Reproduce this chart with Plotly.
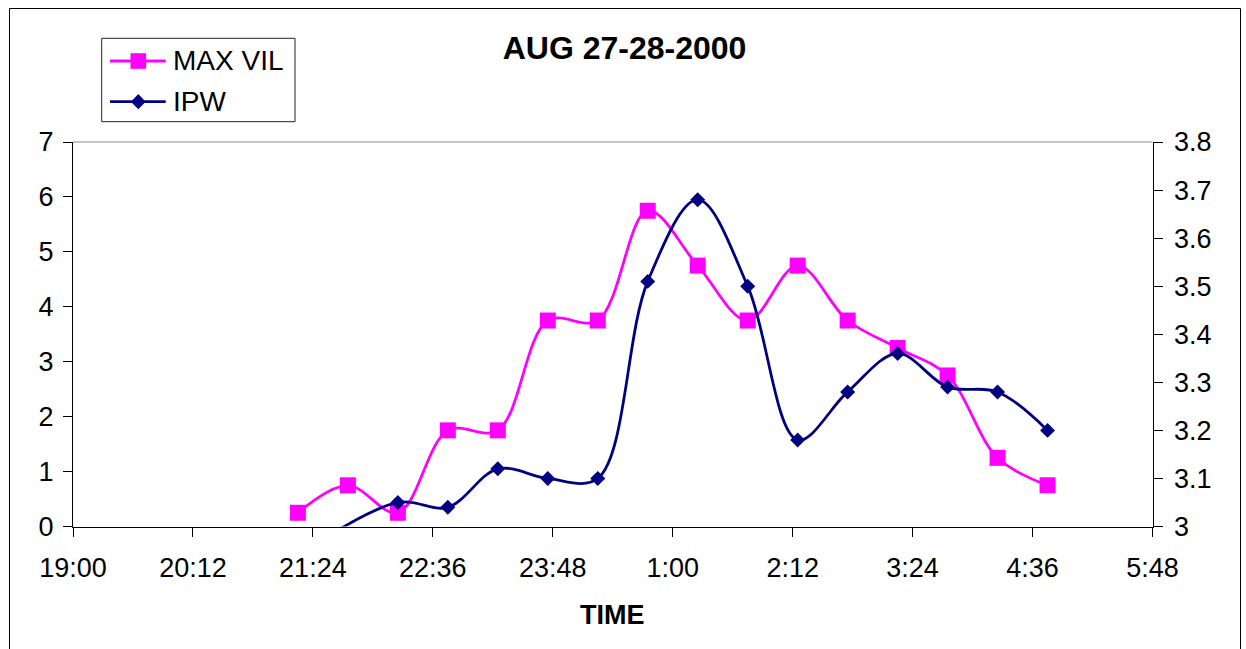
import plotly.graph_objects as go

# ---- data -------------------------------------------------------------
vil_times = ["21:15", "21:45", "22:15", "22:45", "23:15", "23:45", "0:15", "0:45",
             "1:15", "1:45", "2:15", "2:45", "3:15", "3:45", "4:15", "4:45"]
max_vil = [0.25, 0.75, 0.25, 1.75, 1.75, 3.75, 3.75, 5.75,
           4.75, 3.75, 4.75, 3.75, 3.25, 2.75, 1.25, 0.75]

ipw_times = ["21:15", "22:15", "22:45", "23:15", "23:45", "0:15", "0:45",
             "1:15", "1:45", "2:15", "2:45", "3:15", "3:45", "4:15", "4:45"]
ipw = [2.94, 3.05, 3.04, 3.12, 3.10, 3.10, 3.51,
       3.68, 3.50, 3.18, 3.28, 3.36, 3.29, 3.28, 3.20]

left_ticks = [0, 1, 2, 3, 4, 5, 6, 7]
right_ticks = [3, 3.1, 3.2, 3.3, 3.4, 3.5, 3.6, 3.7, 3.8]

# ---- geometry helpers ---------------------------------------------------
W, H = 1246, 649
FONT = "Liberation Sans, Arial, sans-serif"
VIL_COLOR = "#FF00FF"
IPW_COLOR = "#000080"

PLOT_L, PLOT_R, PLOT_T, PLOT_B = 73, 1152.5, 142, 526.5


def fx(px):
    return px / W


def fy(py):
    return 1 - py / H


def to_dt(hm):
    h, m = map(int, hm.split(":"))
    day = 27 if h >= 12 else 28
    return f"2000-08-{day} {h:02d}:{m:02d}"


# ---- traces -------------------------------------------------------------
fig = go.Figure()
fig.add_trace(go.Scatter(
    x=[to_dt(t) for t in vil_times], y=max_vil, name="MAX VIL",
    mode="lines+markers",
    line=dict(color=VIL_COLOR, width=2.8, shape="spline", smoothing=1),
    marker=dict(symbol="square", size=16, color=VIL_COLOR),
    showlegend=False,
))
fig.add_trace(go.Scatter(
    x=[to_dt(t) for t in ipw_times], y=ipw, name="IPW", yaxis="y2",
    mode="lines+markers",
    line=dict(color=IPW_COLOR, width=2.8, shape="spline", smoothing=1),
    marker=dict(symbol="diamond", size=11.5, color=IPW_COLOR),
    showlegend=False,
))

tick_font = dict(family=FONT, size=27, color="black")

fig.update_layout(
    template="none",
    width=W, height=H,
    margin=dict(l=0, r=0, t=0, b=0, pad=0),
    paper_bgcolor="white", plot_bgcolor="white",
    showlegend=False,
    title=dict(text="<b>AUG 27-28-2000</b>", x=fx(624.5), xanchor="center",
               y=fy(48), yanchor="middle", automargin=False,
               font=dict(family=FONT, size=32, color="black")),
    xaxis=dict(
        type="date", domain=[fx(PLOT_L), fx(PLOT_R)], automargin=False,
        range=["2000-08-27 19:00", "2000-08-28 05:48"],
        tick0="2000-08-27 19:00", dtick=72 * 60 * 1000, tickformat="%-H:%M",
        ticks="outside", ticklen=9, tickcolor="black", tickwidth=1,
        showline=True, linecolor="black", linewidth=1,
        showgrid=False, zeroline=False, tickfont=tick_font,
        ticklabelstandoff=8,
    ),
    yaxis=dict(
        domain=[fy(PLOT_B), fy(PLOT_T)], range=[0, 7], automargin=False,
        tickmode="array", tickvals=left_ticks,
        ticks="outside", ticklen=9, tickcolor="black", tickwidth=1,
        showline=True, linecolor="black", linewidth=1,
        showgrid=False, zeroline=False, tickfont=tick_font,
        ticklabelstandoff=4,
    ),
    yaxis2=dict(
        overlaying="y", side="right", anchor="x", range=[3, 3.8], automargin=False,
        tickmode="array", tickvals=right_ticks,
        ticks="outside", ticklen=9, tickcolor="black", tickwidth=1,
        showline=True, linecolor="black", linewidth=1,
        showgrid=False, zeroline=False, tickfont=tick_font,
        ticklabelstandoff=6,
    ),
    # inner half of the crossing tick marks on the right axis
    yaxis3=dict(
        overlaying="y", side="right", anchor="x", range=[3, 3.8], automargin=False,
        tickmode="array", tickvals=right_ticks,
        ticks="inside", ticklen=9, tickcolor="black", tickwidth=1,
        showticklabels=False, showline=False, showgrid=False, zeroline=False,
    ),
)

# ---- frame, plot-area top edge, legend ---------------------------------
shapes = [
    dict(type="rect", xref="paper", yref="paper",
         x0=fx(9.5), x1=fx(1240.5), y0=fy(8.5), y1=fy(660),
         line=dict(color="black", width=1), fillcolor="rgba(0,0,0,0)"),
    dict(type="line", xref="paper", yref="paper",
         x0=fx(PLOT_L), x1=fx(PLOT_R), y0=fy(PLOT_T), y1=fy(PLOT_T),
         line=dict(color="#8c8c8c", width=1)),
    # legend box
    dict(type="rect", xref="paper", yref="paper",
         x0=fx(101.7), x1=fx(295), y0=fy(38.3), y1=fy(121.7),
         line=dict(color="#222222", width=1), fillcolor="white"),
    dict(type="line", xref="paper", yref="paper",
         x0=fx(110), x1=fx(165.7), y0=fy(61), y1=fy(61),
         line=dict(color=VIL_COLOR, width=2.8)),
    dict(type="rect", xref="paper", yref="paper",
         x0=fx(138.3 - 7.8), x1=fx(138.3 + 7.8), y0=fy(61 - 7.8), y1=fy(61 + 7.8),
         line=dict(width=0), fillcolor=VIL_COLOR),
    dict(type="line", xref="paper", yref="paper",
         x0=fx(110), x1=fx(165.7), y0=fy(101.7), y1=fy(101.7),
         line=dict(color=IPW_COLOR, width=2.8)),
    dict(type="path", xref="paper", yref="paper",
         path=(f"M {fx(138.3 - 7.4)},{fy(101.7)} L {fx(138.3)},{fy(101.7 - 7.6)} "
               f"L {fx(138.3 + 7.4)},{fy(101.7)} L {fx(138.3)},{fy(101.7 + 7.6)} Z"),
         line=dict(width=0), fillcolor=IPW_COLOR),
]
fig.update_layout(shapes=shapes)

legend_font = dict(family=FONT, size=28, color="black")
annotations = [
    dict(text="<b>TIME</b>", xref="paper", yref="paper", x=fx(612), y=fy(615),
         xanchor="center", yanchor="middle", showarrow=False,
         font=dict(family=FONT, size=27, color="black")),
    dict(text="MAX VIL", xref="paper", yref="paper", x=fx(171), y=fy(61),
         xanchor="left", yanchor="middle", showarrow=False, font=legend_font),
    dict(text="IPW", xref="paper", yref="paper", x=fx(171), y=fy(101.7),
         xanchor="left", yanchor="middle", showarrow=False, font=legend_font),
]
fig.update_layout(annotations=annotations)

fig.write_html("out.html")
